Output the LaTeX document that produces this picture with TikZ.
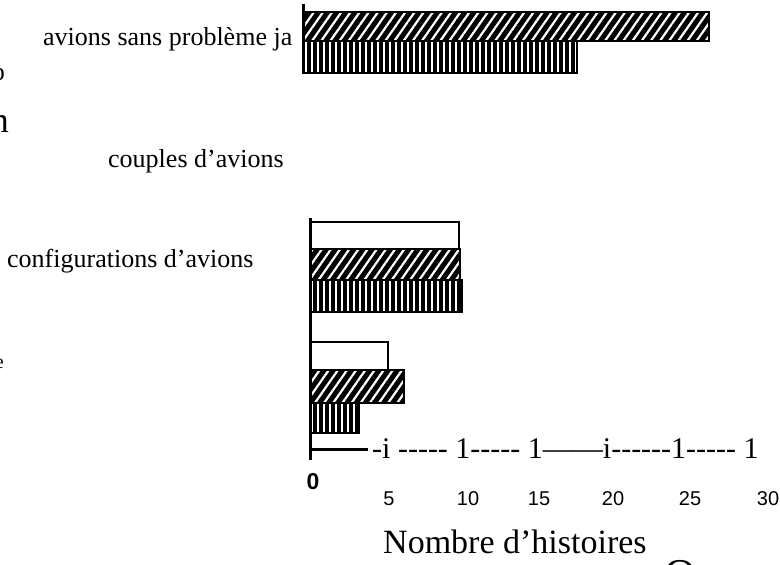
\documentclass[tikz,border=0pt]{standalone}
\usepackage{fontspec}
\setmainfont{Liberation Serif}
\newfontfamily\rawserif{Liberation Serif}
\newfontfamily\numfont{Liberation Sans}
\usetikzlibrary{patterns.meta}

\begin{document}
\begin{tikzpicture}[x=1pt, y=-1pt,
  every node/.style={inner sep=0pt},
  lbl/.style={font=\fontsize{26}{30}\selectfont, anchor=base west},
  frag/.style={anchor=base east},
  tick/.style={font=\fontsize{20}{24}\selectfont\numfont, anchor=base},
  axis/.style={black, line width=3pt},
  hatchbar/.style={preaction={fill=black}, preaction={pattern={Lines[angle=55,distance=7.5pt,line width=2.2pt]}, pattern color=white}, draw=black, line width=2.5pt},
  stripebar/.style={preaction={fill=black}, preaction={pattern={Lines[angle=90,distance=6pt,line width=1.8pt]}, pattern color=white}, draw=black, line width=2.5pt},
  emptybar/.style={draw=black, line width=2.5pt, fill=white}]
\fill [white] (0,0) rectangle (780,565);
\useasboundingbox (0,0) rectangle (780,565);
\clip (0,0) rectangle (780,565);
\node [frag, font=\fontsize{26}{30}\selectfont] (fragO) at (5,80) {o};
\node [frag, font=\fontsize{36}{40}\selectfont] (fragN) at (9,132) {n};
\node [frag, font=\fontsize{20}{24}\selectfont] (fragE) at (4,368) {e};
\node [lbl] (sansPb) at (43,45) {avions sans problème ja};
\node [lbl] (couples) at (108,167) {couples d’avions};
\node [lbl] (configs) at (7,267) {configurations d’avions};
\draw [hatchbar] (303,12) rectangle (709,41);
\draw [stripebar] (303,41) rectangle (577,73);
\draw [axis] (303,4) -- (303,74);
\draw [emptybar] (310,222) rectangle (459,249);
\draw [hatchbar] (310,249) rectangle (460,280);
\draw [stripebar] (310,280) rectangle (462,312);
\draw [emptybar] (310,342) rectangle (388,370);
\draw [hatchbar] (310,370) rectangle (404,403);
\draw [stripebar] (310,403) rectangle (359,433);
\coordinate (origin) at (310,449);
\coordinate (axisTop) at (310,218);
\coordinate (axisBot) at (310,460);
\coordinate (axisEnd) at (368,449);
\draw [axis] (axisTop) -- (axisBot);
\draw [axis] (origin) -- (axisEnd);
\node [font=\fontsize{30}{34}\selectfont\rawserif, anchor=base west] (scaleLine) at (372,458) {-i ----- 1----- 1——i------1----- 1};
\node [font=\fontsize{23}{26}\selectfont\numfont\bfseries, anchor=base] (zero) at (313,489) {0};
\foreach \v/\x in {5/389,10/468,15/539,20/613,25/690,30/768}
  \node [tick] (t\v) at (\x,505) {\v};
\node [font=\fontsize{34}{38}\selectfont, anchor=base west] (xlabel) at (383,553) {Nombre d’histoires};
\node [font=\fontsize{44}{48}\selectfont, anchor=base west] (bigO) at (664,589) {O};
\end{tikzpicture}
\end{document}
